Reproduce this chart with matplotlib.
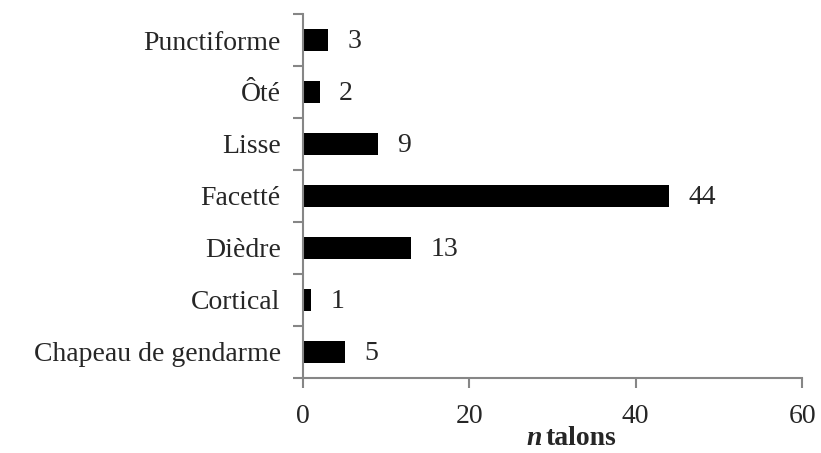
import numpy as np
import matplotlib.pyplot as plt

# Donnees
categories = ["Chapeau de gendarme", "Cortical", "Dièdre", "Facetté", "Lisse", "Ôté", "Punctiforme"]
valeurs = [5, 1, 13, 44, 9, 2, 3]
xticks = [0, 20, 40, 60]

plt.rcParams['font.family'] = ['Liberation Serif', 'DejaVu Serif']
gris = '#868686'
fs = 20

fig = plt.figure(figsize=(8.21, 4.53), dpi=100)
ax = fig.add_axes([0.369, 0.166, 0.608, 0.803])

y = np.arange(len(categories))
ax.barh(y, valeurs, height=0.42, color='black')
for yi, v in zip(y, valeurs):
    ax.annotate(str(v), (v, yi), xytext=(14, -1), textcoords='offset points',
                va='center', ha='left', fontsize=fs, color='#262626')

ax.set_xlim(0, 60)
ax.set_ylim(-0.5, len(categories) - 0.5)
ax.set_xticks(xticks)
ax.set_xticklabels([str(t) for t in xticks], fontsize=fs, color='#262626')
ax.set_yticks(y)
ax.set_yticklabels(categories, fontsize=fs, color='#262626')
ax.set_yticks(np.arange(len(categories) + 1) - 0.5, minor=True)
ax.tick_params(axis='y', which='major', length=0, pad=16)
ax.tick_params(axis='y', which='minor', length=7, color=gris, width=1.5)
ax.tick_params(axis='x', length=7, color=gris, width=1.5, pad=12)

for s in ['top', 'right']:
    ax.spines[s].set_visible(False)
for s in ['left', 'bottom']:
    ax.spines[s].set_color(gris)
    ax.spines[s].set_linewidth(1.5)

# titre de l'axe x : "n" en gras italique
xc = 0.369 + 0.608 / 2
fig.text(xc - 0.008, 0.005, 'talons', fontsize=fs, fontweight='bold', ha='left', va='bottom', color='#262626')
fig.text(xc - 0.013, 0.005, 'n', fontsize=fs, fontweight='bold', style='italic', ha='right', va='bottom', color='#262626')

fig.savefig('out.png', dpi=100)
